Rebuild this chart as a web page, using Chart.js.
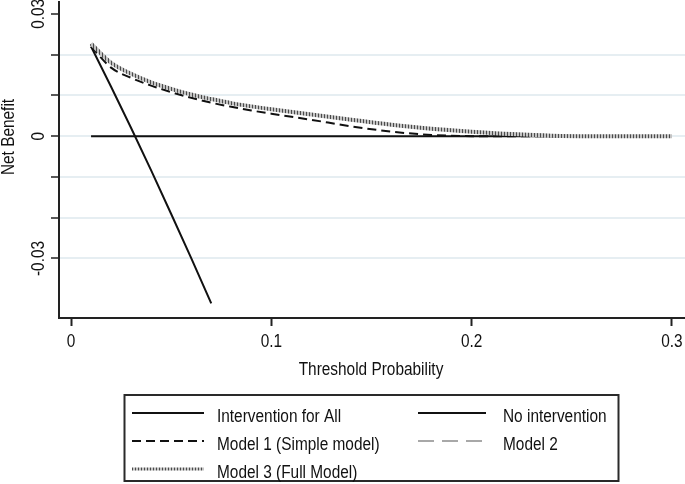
<!DOCTYPE html>
<html>
<head>
<meta charset="utf-8">
<script src="https://cdn.jsdelivr.net/npm/chart.js@4.4.1/dist/chart.umd.min.js"></script>
<style>
  html, body { margin: 0; padding: 0; background: #fff; }
  #wrap { width: 685px; height: 484px; }
</style>
</head>
<body>
<div id="wrap"><canvas id="myChart" width="685" height="484"></canvas></div>
<script>
// threshold probabilities and net benefit
const ptAll = [0.01, 0.02, 0.03, 0.04, 0.05, 0.06, 0.07];
const nbAll = [0.0220, 0.0121, 0.0020, -0.0084, -0.0191, -0.0299, -0.0410];

const ptNone = [0.01, 0.30];
const nbNone = [0, 0];

const ptModel = [0.01, 0.02, 0.03, 0.04, 0.05, 0.06, 0.07, 0.08, 0.09, 0.10,
  0.12, 0.14, 0.16, 0.18, 0.20, 0.22, 0.24, 0.26, 0.28, 0.30];
const nbModel1 = [0.0220, 0.0168, 0.0143, 0.0124, 0.0108, 0.0094, 0.0082, 0.0072, 0.0063, 0.0055,
  0.0040, 0.0024, 0.0011, 0.0003, 0.0000, 0.0000, 0.0000, 0.0000, 0.0000, 0.0000];
const nbModel2 = [0.0226, 0.0179, 0.0152, 0.0131, 0.0115, 0.0101, 0.0090, 0.0080, 0.0072, 0.0065,
  0.0052, 0.0039, 0.0027, 0.0017, 0.0010, 0.0004, 0.0001, 0.0000, 0.0000, 0.0000];
const nbModel3 = [0.0227, 0.0180, 0.0153, 0.0132, 0.0116, 0.0102, 0.0091, 0.0081, 0.0073, 0.0066,
  0.0053, 0.0040, 0.0028, 0.0018, 0.0011, 0.0005, 0.0001, 0.0000, 0.0000, 0.0000];

const xTicks = [0, 0.1, 0.2, 0.3];
const yTicks = [-0.03, -0.02, -0.01, 0, 0.01, 0.02, 0.03];
const yLabels = [-0.03, 0, 0.03];

const FONT = "'Liberation Sans', Arial, sans-serif";
const FS = 17.5;
const SQUEEZE = 0.88;  // the original uses a condensed face

function pts(xs, ys) {
  return xs.map((x, i) => ({ x: x, y: ys[i] }));
}

// striped look of the Model 3 line
function stripes() {
  const c = document.createElement('canvas');
  c.width = 3; c.height = 3;
  const g = c.getContext('2d');
  g.fillStyle = '#c4c4c4';
  g.fillRect(0, 0, 3, 3);
  g.fillStyle = '#4a4a4a';
  g.fillRect(0, 0, 1, 3);
  return g.createPattern(c, 'repeat');
}
const stripe = stripes();

// condensed text, optionally turned to read upwards
function text(c, str, x, y, align, up) {
  c.save();
  c.translate(x, y);
  if (up) c.rotate(-Math.PI / 2);
  c.scale(SQUEEZE, 1);
  c.textAlign = align;
  c.textBaseline = 'alphabetic';
  c.fillText(str, 0, 0);
  c.restore();
}

// axis labels and the boxed two-column legend
const labelsAndLegend = {
  id: 'labelsAndLegend',
  afterDraw(chart) {
    const c = chart.ctx;
    const ds = chart.data.datasets;
    const xs = chart.scales.x;
    const ys = chart.scales.y;
    c.save();
    c.font = FS + 'px ' + FONT;
    c.fillStyle = '#111';

    xTicks.forEach(v => text(c, v === 0 ? '0' : v.toFixed(1), xs.getPixelForValue(v), 347, 'center'));
    text(c, 'Threshold Probability', 371, 375, 'center');
    yLabels.forEach(v => text(c, v === 0 ? '0' : v.toFixed(2), 43.5, ys.getPixelForValue(v), 'center', true));
    text(c, 'Net Benefit', 13.5, 137, 'center', true);

    c.strokeStyle = '#2a2a2a';
    c.lineWidth = 2;
    c.strokeRect(124.5, 395, 494, 86);
    const slots = [
      [0, 132, 204, 217, 413],
      [1, 418, 486, 503, 413],
      [2, 132, 204, 217, 441],
      [3, 418, 486, 503, 441],
      [4, 132, 204, 217, 469]
    ];
    slots.forEach(s => {
      const d = ds[s[0]];
      c.beginPath();
      c.setLineDash(d.borderDash || []);
      c.strokeStyle = d.borderColor;
      c.lineWidth = d.legendWidth || d.borderWidth;
      c.moveTo(s[1], s[4]);
      c.lineTo(s[2], s[4]);
      c.stroke();
      c.setLineDash([]);
      text(c, d.label, s[3], s[4] + 8.5, 'left');
    });
    c.restore();
  }
};

const ctx = document.getElementById('myChart');

new Chart(ctx, {
  type: 'line',
  data: {
    datasets: [{
      label: 'Intervention for All',
      data: pts(ptAll, nbAll),
      borderColor: '#111',
      borderWidth: 2,
      order: 3
    }, {
      label: 'No intervention',
      data: pts(ptNone, nbNone),
      borderColor: '#111',
      borderWidth: 2,
      order: 4
    }, {
      label: 'Model 1 (Simple model)',
      data: pts(ptModel, nbModel1),
      borderColor: '#111',
      borderWidth: 2,
      borderDash: [9, 5],
      cubicInterpolationMode: 'monotone',
      order: 1
    }, {
      label: 'Model 2',
      data: pts(ptModel, nbModel2),
      borderColor: '#a8a8a8',
      borderWidth: 2,
      borderDash: [16, 8],
      cubicInterpolationMode: 'monotone',
      order: 2
    }, {
      label: 'Model 3 (Full Model)',
      data: pts(ptModel, nbModel3),
      borderColor: stripe,
      borderWidth: 4,
      legendWidth: 3,
      cubicInterpolationMode: 'monotone',
      order: 0
    }]
  },
  plugins: [labelsAndLegend],
  options: {
    responsive: false,
    animation: false,
    events: [],
    layout: { padding: { top: 2, right: 0, left: 0, bottom: 96 } },
    elements: { point: { radius: 0 }, line: { borderCapStyle: 'butt' } },
    plugins: {
      legend: { display: false },
      tooltip: { enabled: false }
    },
    scales: {
      x: {
        type: 'linear',
        min: -0.006,
        max: 0.3065,
        afterBuildTicks: s => { s.ticks = xTicks.map(v => ({ value: v })); },
        afterFit: s => { s.height = 70; },
        grid: { drawOnChartArea: false, drawTicks: true, tickLength: 8, tickColor: '#222', tickWidth: 2 },
        border: { color: '#222', width: 2 },
        ticks: { display: false }
      },
      y: {
        min: -0.0446,
        max: 0.0329,
        afterBuildTicks: s => { s.ticks = yTicks.map(v => ({ value: v })); },
        afterFit: s => { s.width = 59; },
        grid: {
          color: c => (c.tick && Math.abs(c.tick.value - 0.03) < 1e-9) ? 'rgba(0,0,0,0)' : '#e6eef2',
          lineWidth: 2,
          drawTicks: true,
          tickLength: 8,
          tickColor: '#222',
          tickWidth: 1.5
        },
        border: { color: '#222', width: 2 },
        ticks: { display: false }
      }
    }
  }
});
</script>
</body>
</html>
